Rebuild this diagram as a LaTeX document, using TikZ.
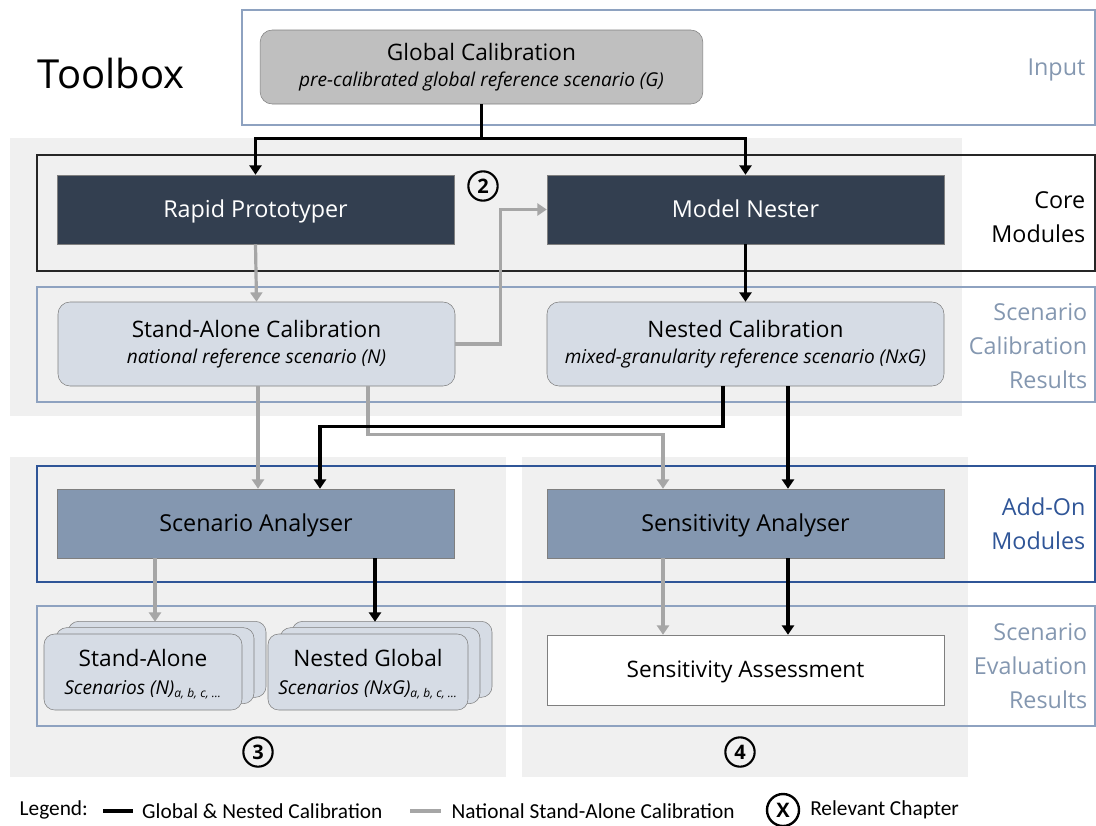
\documentclass[tikz,border=0pt]{standalone}
\usepackage{fontspec}
\setmainfont{Open Sans}
\newfontfamily\legendfont{Carlito}
\usetikzlibrary{arrows.meta,shadows,calc}

\definecolor{panelgray}{HTML}{F0F0F0}
\definecolor{framelight}{HTML}{8EA2C0}
\definecolor{labellight}{HTML}{8497B0}
\definecolor{addonblue}{HTML}{2F5597}
\definecolor{darknode}{HTML}{333F50}
\definecolor{midnode}{HTML}{8497B0}
\definecolor{lightnode}{HTML}{D6DCE5}
\definecolor{globnode}{HTML}{BFBFBF}
\definecolor{edgegray}{HTML}{7F7F7F}
\definecolor{arrowgray}{HTML}{A6A6A6}

\tikzset{
  blackline/.style={line width=2.4pt, black, -{Triangle[length=7pt,width=9pt]}},
  grayline/.style={line width=2.4pt, arrowgray, -{Triangle[length=7pt,width=9pt]}},
  modbox/.style={minimum width=297.75pt, minimum height=51.75pt, inner sep=0pt, text depth=1.5pt, font=\fontsize{17.5}{20}\selectfont},
  resbox/.style={rounded corners=9pt, draw=edgegray, fill=lightnode, minimum width=297.75pt, minimum height=63pt, align=center, inner sep=0pt,
    font=\fontsize{17}{19.5}\selectfont},
  stackbox/.style={rounded corners=8pt, draw=edgegray, fill=lightnode, minimum width=148.5pt, minimum height=57pt, align=center, inner sep=0pt,
    text depth=0pt, font=\fontsize{17}{21}\selectfont,
    double copy shadow={shadow xshift=9pt, shadow yshift=4.75pt, fill=lightnode, draw=edgegray}},
  sidelabel/.style={anchor=east, align=right, font=\fontsize{17.5}{25.5}\selectfont},
  chapter/.style={circle, draw, line width=1.6pt, inner sep=0pt, minimum size=22pt, font=\bfseries\fontsize{15}{15}\selectfont},
  legtext/.style={anchor=west, black, font=\legendfont\fontsize{16}{18}\selectfont}
}
\newcommand{\subtxt}[1]{{\itshape\fontsize{14.3}{17}\selectfont #1}}
\newcommand{\runidx}{\textsubscript{\fontsize{9}{10}\selectfont a, b, c, \dots}}

\begin{document}
\begin{tikzpicture}[x=0.75pt,y=-0.75pt]
\useasboundingbox (0,0) rectangle (1096,825);

% grey panels
\fill [panelgray] (10,138) rectangle (962,416);
\fill [panelgray] (10,457) rectangle (506,777);
\fill [panelgray] (522,457) rectangle (968,777);

% frames
\draw [framelight, line width=1.2pt] (242,10) rectangle (1095,125);
\draw [black!85, line width=1.2pt] (37,155) rectangle (1095,271);
\draw [framelight, line width=1.2pt] (37,287) rectangle (1095,402);
\draw [addonblue, line width=1.2pt] (37,466) rectangle (1095,582);
\draw [framelight, line width=1.2pt] (37,606) rectangle (1095,726);

\node [anchor=west, font=\fontsize{30}{36}\selectfont] (title) at (33,73) {Toolbox};

% side labels
\node [sidelabel, text=labellight] (lin) at (1090,70) {Input};
\node [sidelabel] (lcore) at (1090,217) {Core\\Modules};
\node [sidelabel, text=labellight] (lcal) at (1092,346) {Scenario\\Calibration\\Results};
\node [sidelabel, text=addonblue] (laddon) at (1090,524) {Add-On\\Modules};
\node [sidelabel, text=labellight] (leval) at (1092,666) {Scenario\\Evaluation\\Results};

% nodes
\node [resbox, fill=globnode, minimum width=332pt, minimum height=55.5pt] (glob) at (481.5,67)
  {Global Calibration\\ \subtxt{pre-calibrated global reference scenario (G)}};
\node [modbox, fill=darknode, draw=edgegray, text=white] (rapid) at (255.5,209.5) {Rapid Prototyper};
\node [modbox, fill=darknode, draw=edgegray, text=white] (nester) at (745.5,209.5) {Model Nester};
\node [resbox] (sacal) at (256.5,344)
  {Stand-Alone Calibration\\ \subtxt{national reference scenario (N)}};
\node [resbox] (nestcal) at (745.5,344)
  {Nested Calibration\\ \subtxt{mixed-granularity reference scenario (NxG)}};
\node [modbox, fill=midnode, draw=edgegray] (scan) at (256,523.5) {Scenario Analyser};
\node [modbox, fill=midnode, draw=edgegray] (sens) at (745.5,523.5) {Sensitivity Analyser};
\node [stackbox] (saset) at (143,672)
  {Stand-Alone\\ \subtxt{Scenarios (N)\runidx}};
\node [stackbox, minimum width=150pt] (ngset) at (368,672)
  {Nested Global\\ \subtxt{Scenarios (NxG)\runidx}};
\node [modbox, draw=edgegray, fill=white, minimum height=52.5pt, font=\fontsize{17}{20}\selectfont] (assess) at (745.5,670) {Sensitivity Assessment};

% chapters
\node [chapter] (ch2) at (483,186) {2};
\node [chapter] (ch3) at (258,752) {3};
\node [chapter] (ch4) at (740,752) {4};

% connectors
\draw [blackline] (glob.south) -- ++(0,34) -| (rapid.north);
\draw [blackline] (glob.south) -- ++(0,34) -| (nester.north);
\draw [grayline] (rapid.south) -- (sacal.north);
\draw [grayline] (sacal.east) -- ++(45,0) |- (nester.west);
\draw [blackline] (nester.south) -- (nestcal.north);
\draw [grayline] ($(sacal.south)+(1.5,0)$) -- ($(scan.north)+(2,0)$);
\draw [grayline] ($(sacal.south)+(111.5,0)$) -- ++(0,48) -| ($(sens.north)+(-82.5,0)$);
\draw [blackline] ($(nestcal.south)+(-22.5,0)$) -- ++(0,40) -| ($(scan.north)+(64,0)$);
\draw [blackline] ($(nestcal.south)+(42.5,0)$) -- ($(sens.north)+(42.5,0)$);
\draw [grayline] ($(scan.south)+(-101,0)$) -- ($(saset.north)+(12,-12)$);
\draw [blackline] ($(scan.south)+(119,0)$) -- ($(ngset.north)+(7,-12)$);
\draw [grayline] ($(sens.south)+(-82.5,0)$) -- ($(assess.north)+(-82.5,0)$);
\draw [blackline] ($(sens.south)+(42.5,0)$) -- ($(assess.north)+(42.5,0)$);

% legend
\node [legtext] (leg) at (15,810) {Legend:};
\coordinate (kb) at (103,811);
\draw [line width=3.2pt] (kb) -- ++(30,0) node [legtext, xshift=2pt] (legb) {Global \& Nested Calibration};
\coordinate (kg) at (410,811);
\draw [line width=3.2pt, arrowgray] (kg) -- ++(31,0) node [legtext, xshift=3pt] (legg) {National Stand-Alone Calibration};
\node [chapter, minimum size=24pt, line width=1.8pt] (chx) at (783,810) {X};
\node [legtext, xshift=4pt] (legx) at (chx.east) {Relevant Chapter};

\end{tikzpicture}
\end{document}
